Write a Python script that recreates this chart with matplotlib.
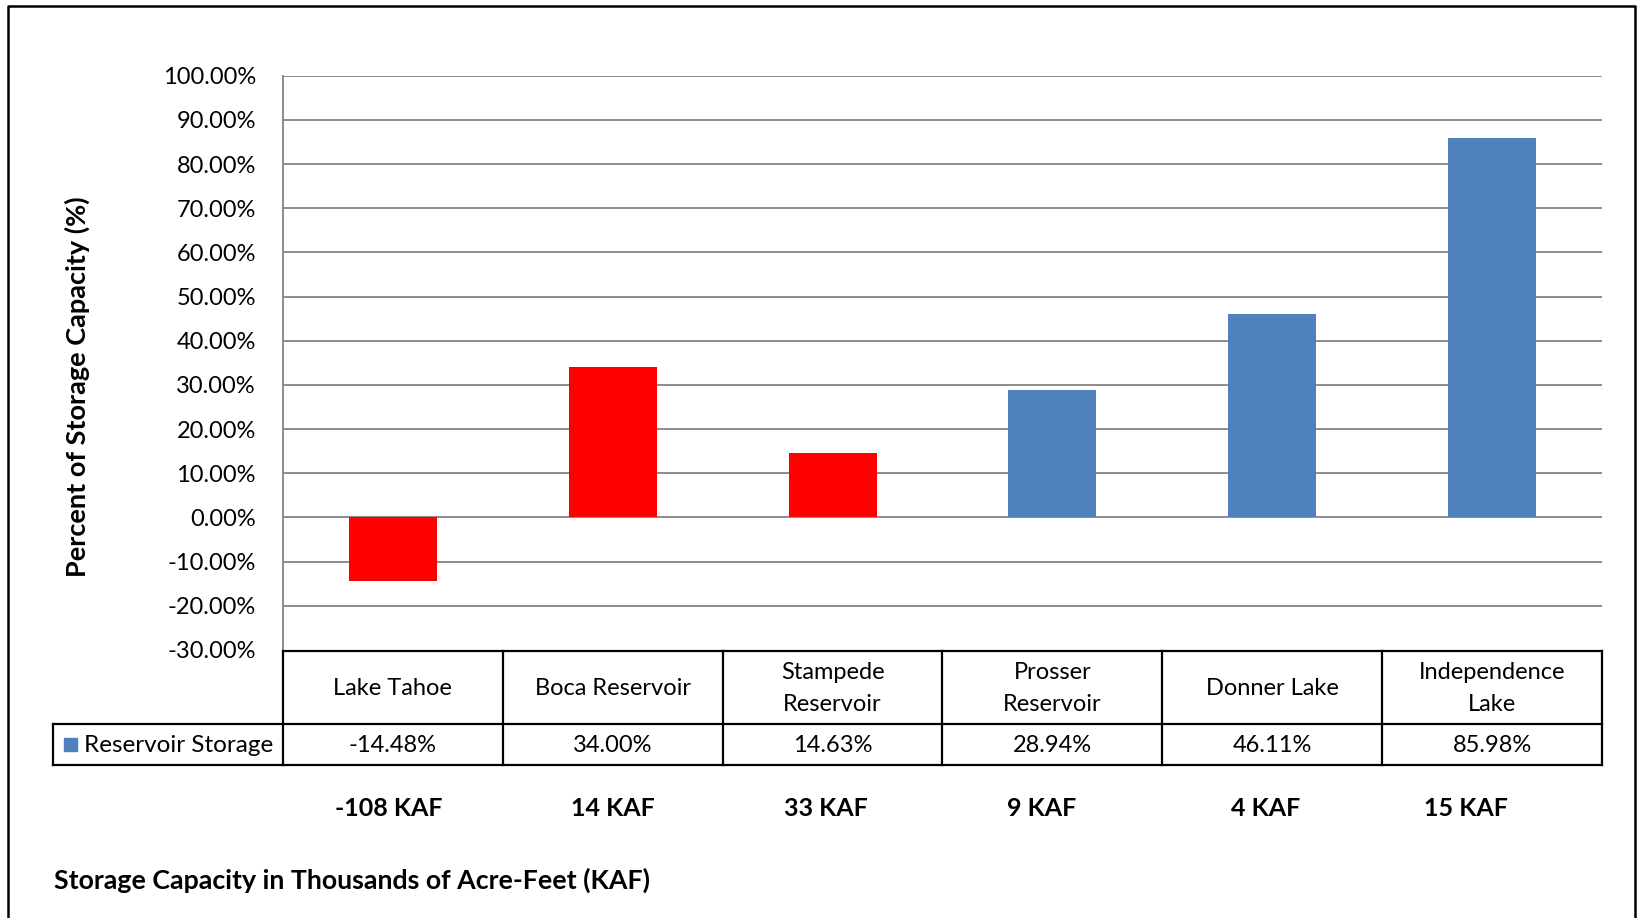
import matplotlib
matplotlib.use("Agg")
import matplotlib.pyplot as plt
from matplotlib.transforms import Affine2D, blended_transform_factory
from matplotlib.patches import Rectangle
from matplotlib.lines import Line2D

reservoirs = ["Lake Tahoe", "Boca Reservoir", "Stampede\nReservoir",
              "Prosser\nReservoir", "Donner Lake", "Independence\nLake"]
storage_pct = [-14.48, 34.00, 14.63, 28.94, 46.11, 85.98]
capacity_kaf = ["-108 KAF", "14 KAF", "33 KAF", "9 KAF", "4 KAF", "15 KAF"]
# small nudges of the capacity labels relative to each column centre
kaf_shift = [-0.02, 0.0, -0.03, -0.05, -0.03, -0.12]
bar_colors = ["#FF0000", "#FF0000", "#FF0000", "#4F81BD", "#4F81BD", "#4F81BD"]
yticks = [v / 100 for v in range(-30, 101, 10)]

W, H = 1640, 918
plt.rcParams["font.family"] = ["Lato", "DejaVu Sans"]
FS = 17

fig = plt.figure(figsize=(W / 100, H / 100), dpi=100)
px = Affine2D().scale(1 / W, -1 / H).translate(0, 1) + fig.transFigure

left, right, top, bottom = 283, 1602, 75.7, 650
ax = fig.add_axes([left / W, 1 - bottom / H, (right - left) / W, (bottom - top) / H])

x = list(range(len(reservoirs)))
vals = [v / 100 for v in storage_pct]
ax.bar(x, vals, width=0.4, color=bar_colors, zorder=3)

ax.set_xlim(-0.5, len(reservoirs) - 0.5)
ax.set_ylim(-0.3, 1.0)
ax.set_yticks(yticks)
ax.set_yticklabels([f"{t * 100:.2f}%" for t in yticks], fontsize=FS)
ax.tick_params(axis="y", length=0, pad=19.5)
ax.set_xticks([])
for t in yticks[1:]:
    ax.axhline(t, color="#8c8c8c", lw=1.4, zorder=1)
for s in ["top", "right", "bottom"]:
    ax.spines[s].set_visible(False)
ax.spines["left"].set_color("#8c8c8c")
ax.spines["left"].set_linewidth(1.4)

fig.text(77, 387, "Percent of Storage Capacity (%)", transform=px,
         rotation=90, ha="center", va="center", fontsize=19.5, weight="bold")

# data table under the axis
tx = blended_transform_factory(ax.transData, px)
row_top, row_mid, row_bot = 650.5, 724, 765
legend_left = 53
for i in range(len(reservoirs) + 1):
    fig.add_artist(Line2D([i - 0.5, i - 0.5], [row_top, row_bot], color="black",
                          lw=1.6, transform=tx))
fig.add_artist(Line2D([left, right], [row_top, row_top], color="black", lw=1.6, transform=px))
for yy in (row_mid, row_bot):
    fig.add_artist(Line2D([legend_left, right], [yy, yy], color="black", lw=1.6, transform=px))
fig.add_artist(Line2D([legend_left, legend_left], [row_mid, row_bot], color="black",
                      lw=1.6, transform=px))

for i, name in enumerate(reservoirs):
    fig.text(i, (row_top + row_mid) / 2 + 1, name, transform=tx, ha="center",
             va="center", fontsize=FS, linespacing=1.65)
    fig.text(i, (row_mid + row_bot) / 2 + 1, f"{storage_pct[i]:.2f}%", transform=tx,
             ha="center", va="center", fontsize=FS)
    fig.text(i + kaf_shift[i], 808, capacity_kaf[i], transform=tx, ha="center",
             va="center", fontsize=FS + 1, weight="bold")

fig.add_artist(Rectangle((64, 738), 13, 13, color="#4F81BD", transform=px))
fig.text(84, (row_mid + row_bot) / 2 + 1, "Reservoir Storage", transform=px,
         ha="left", va="center", fontsize=17.5)

fig.text(54, 880, "Storage Capacity in Thousands of Acre-Feet (KAF)", transform=px,
         ha="left", va="center", fontsize=19.3, weight="bold")

# outer frame, open at the bottom edge
fig.add_artist(Line2D([8, 8, 1635, 1635], [H + 5, 5.5, 5.5, H + 5], color="black",
                      lw=1.8, transform=px))

fig.savefig("out.png", dpi=100)
